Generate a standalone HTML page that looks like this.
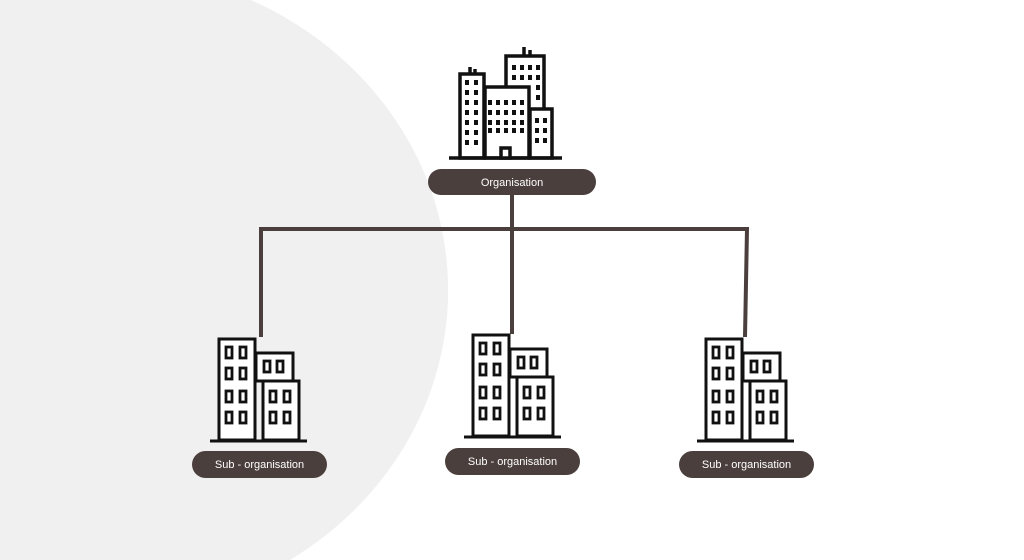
<!DOCTYPE html>
<html><head><meta charset="utf-8"><style>
html,body{margin:0;padding:0;background:#fff;width:1024px;height:560px;overflow:hidden}
svg{display:block;overflow:hidden}
text{font-family:"Liberation Sans",sans-serif}
</style></head><body>
<svg width="1024" height="560" viewBox="0 0 1024 560" xmlns="http://www.w3.org/2000/svg">
<defs>
<g id="sub" fill="none" stroke="#111" stroke-width="3">
  <rect x="219" y="339" width="36" height="101" fill="#fff"/>
  <rect x="256" y="353" width="37" height="28" fill="#fff"/>
  <rect x="263" y="381" width="36" height="59" fill="#fff"/>
  <line x1="210" y1="441" x2="307" y2="441"/>
  <g stroke-width="2.8">
    <rect x="226" y="347" width="6" height="11"/><rect x="240" y="347" width="6" height="11"/>
    <rect x="226" y="368" width="6" height="11"/><rect x="240" y="368" width="6" height="11"/>
    <rect x="226" y="391" width="6" height="11"/><rect x="240" y="391" width="6" height="11"/>
    <rect x="226" y="412" width="6" height="11"/><rect x="240" y="412" width="6" height="11"/>
    <rect x="264" y="361" width="6" height="11"/><rect x="277" y="361" width="6" height="11"/>
    <rect x="270" y="391" width="6" height="11"/><rect x="284" y="391" width="6" height="11"/>
    <rect x="270" y="412" width="6" height="11"/><rect x="284" y="412" width="6" height="11"/>
  </g>
</g>
</defs>
<path d="M0,0 L251,0 A348 322 0 0 1 290,560 L0,560 Z" fill="#f0f0f0"/>
<g stroke="#4a3f3c" stroke-width="4" fill="none">
  <line x1="512" y1="190" x2="512" y2="334"/>
  <polyline points="261,337 261,229 747,229 745,337"/>
</g>
<g fill="#fff" stroke="#111" stroke-width="3.5">
  <rect x="506" y="56" width="38" height="54"/>
  <rect x="460" y="74" width="24" height="84"/>
  <rect x="485" y="87" width="44" height="71"/>
  <rect x="530" y="109" width="22" height="49"/>
  <line x1="449" y1="158" x2="562" y2="158"/>
  <line x1="470" y1="74" x2="470" y2="67"/><line x1="475" y1="74" x2="475" y2="69"/>
  <line x1="524" y1="56" x2="524" y2="47"/><line x1="530" y1="56" x2="530" y2="50"/>
  <rect x="501" y="148" width="9" height="10"/>
</g>
<g fill="#111">
  <rect x="465" y="80" width="4" height="5"/><rect x="474" y="80" width="4" height="5"/>
  <rect x="465" y="90" width="4" height="5"/><rect x="474" y="90" width="4" height="5"/>
  <rect x="465" y="100" width="4" height="5"/><rect x="474" y="100" width="4" height="5"/>
  <rect x="465" y="110" width="4" height="5"/><rect x="474" y="110" width="4" height="5"/>
  <rect x="465" y="120" width="4" height="5"/><rect x="474" y="120" width="4" height="5"/>
  <rect x="465" y="130" width="4" height="5"/><rect x="474" y="130" width="4" height="5"/>
  <rect x="465" y="140" width="4" height="5"/><rect x="474" y="140" width="4" height="5"/>
  <rect x="488" y="100" width="4" height="5"/><rect x="496" y="100" width="4" height="5"/><rect x="504" y="100" width="4" height="5"/><rect x="512" y="100" width="4" height="5"/><rect x="520" y="100" width="4" height="5"/>
  <rect x="488" y="110" width="4" height="5"/><rect x="496" y="110" width="4" height="5"/><rect x="504" y="110" width="4" height="5"/><rect x="512" y="110" width="4" height="5"/><rect x="520" y="110" width="4" height="5"/>
  <rect x="488" y="120" width="4" height="5"/><rect x="496" y="120" width="4" height="5"/><rect x="504" y="120" width="4" height="5"/><rect x="512" y="120" width="4" height="5"/><rect x="520" y="120" width="4" height="5"/>
  <rect x="488" y="128" width="4" height="5"/><rect x="496" y="128" width="4" height="5"/><rect x="504" y="128" width="4" height="5"/><rect x="512" y="128" width="4" height="5"/><rect x="520" y="128" width="4" height="5"/>
  <rect x="512" y="65" width="4" height="5"/><rect x="520" y="65" width="4" height="5"/><rect x="528" y="65" width="4" height="5"/><rect x="536" y="65" width="4" height="5"/>
  <rect x="512" y="75" width="4" height="5"/><rect x="520" y="75" width="4" height="5"/><rect x="528" y="75" width="4" height="5"/><rect x="536" y="75" width="4" height="5"/>
  <rect x="536" y="85" width="4" height="5"/><rect x="536" y="95" width="4" height="5"/>
  <rect x="535" y="118" width="4" height="5"/><rect x="543" y="118" width="4" height="5"/>
  <rect x="535" y="128" width="4" height="5"/><rect x="543" y="128" width="4" height="5"/>
  <rect x="535" y="138" width="4" height="5"/><rect x="543" y="138" width="4" height="5"/>
</g>
<use href="#sub"/>
<use href="#sub" transform="translate(254,-4)"/>
<use href="#sub" transform="translate(487,0)"/>
<g fill="#4a3f3c">
  <rect x="428" y="169" width="168" height="26" rx="13"/>
  <rect x="192" y="451" width="135" height="27" rx="13.5"/>
  <rect x="445" y="448" width="135" height="27" rx="13.5"/>
  <rect x="679" y="451" width="135" height="27" rx="13.5"/>
</g>
<g fill="#fff" font-size="11" text-anchor="middle">
  <text x="512" y="186">Organisation</text>
  <text x="259.5" y="468">Sub - organisation</text>
  <text x="512.5" y="465">Sub - organisation</text>
  <text x="746.5" y="468">Sub - organisation</text>
</g>
</svg>
</body></html>
